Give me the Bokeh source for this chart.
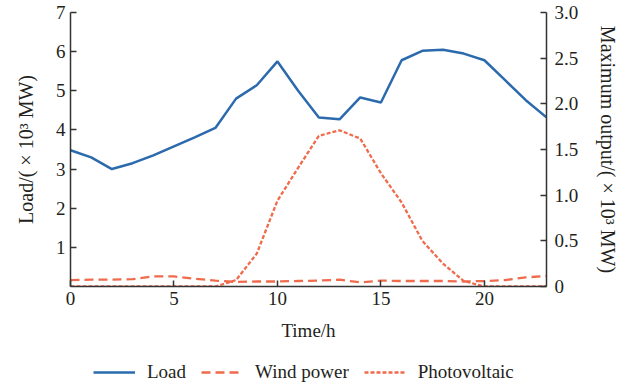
from bokeh.plotting import figure
from bokeh.layouts import column
from bokeh.models import Range1d, LinearAxis, FixedTicker, Legend, LegendItem
from bokeh.embed import file_html
from bokeh.resources import INLINE

hours = list(range(24))
load = [3.48, 3.30, 3.00, 3.15, 3.35, 3.58, 3.81, 4.05, 4.80, 5.14, 5.75, 5.00,
        4.32, 4.27, 4.83, 4.70, 5.78, 6.02, 6.05, 5.95, 5.78, 5.27, 4.76, 4.32]
wind = [0.07, 0.075, 0.075, 0.08, 0.11, 0.11, 0.085, 0.065, 0.05, 0.055, 0.055, 0.06,
        0.065, 0.075, 0.045, 0.065, 0.06, 0.06, 0.06, 0.055, 0.06, 0.07, 0.10, 0.115]
pv = [0, 0, 0, 0, 0, 0, 0, 0, 0.07, 0.36, 0.94, 1.30,
      1.65, 1.71, 1.62, 1.24, 0.92, 0.50, 0.25, 0.06, 0, 0, 0, 0]
x_ticks = [0, 5, 10, 15, 20]
left_ticks = [1, 2, 3, 4, 5, 6, 7]
right_ticks = [0, 0.5, 1.0, 1.5, 2.0, 2.5, 3.0]
right_labels = {0: "0", 0.5: "0.5", 1: "1.0", 1.5: "1.5", 2: "2.0", 2.5: "2.5", 3: "3.0"}
series_names = ["Load", "Wind power", "Photovoltaic"]

FONT = "Liberation Serif"
TXT = "#231f20"
BLUE = "#2b6aad"
ORANGE = "#ef6b4c"

p = figure(width=633, height=351, output_backend="svg", toolbar_location=None,
           x_range=Range1d(0, 23), y_range=Range1d(0, 7),
           min_border_left=70, min_border_right=87, min_border_top=12, min_border_bottom=65)
p.outline_line_color = None
p.xgrid.visible = False
p.ygrid.visible = False
p.extra_y_ranges = {"right": Range1d(0, 3)}

p.line(hours, load, line_color=BLUE, line_width=2.5)
p.line(hours, wind, y_range_name="right", line_color=ORANGE, line_width=2.3, line_dash="9 5")
p.line(hours, pv, y_range_name="right", line_color=ORANGE, line_width=2.3, line_dash="4 2")

def style(ax):
    ax.axis_line_color = "#333333"
    ax.axis_line_width = 1.5
    ax.major_tick_line_color = "#333333"
    ax.major_tick_line_width = 1.5
    ax.major_tick_in = 6
    ax.major_tick_out = 0
    ax.minor_tick_line_color = None
    ax.major_label_text_font = FONT
    ax.major_label_text_font_size = "19px"
    ax.major_label_text_color = TXT
    ax.axis_label_text_font = FONT
    ax.axis_label_text_font_style = "normal"
    ax.axis_label_text_color = TXT

xa = p.xaxis[0]
style(xa)
xa.ticker = FixedTicker(ticks=x_ticks)
xa.axis_label = "Time/h"
xa.axis_label_text_font_size = "19px"
xa.axis_label_standoff = 12
xa.major_label_standoff = 5

ya = p.yaxis[0]
style(ya)
ya.ticker = FixedTicker(ticks=left_ticks)
ya.axis_label = "Load/( × 10³ MW)"
ya.axis_label_text_font_size = "20px"
ya.axis_label_standoff = 16
ya.major_label_standoff = 5

ra = LinearAxis(y_range_name="right")
style(ra)
ra.ticker = FixedTicker(ticks=right_ticks)
ra.major_label_overrides = right_labels
ra.axis_label = "Maximum output/( × 10³ MW)"
ra.axis_label_text_font_size = "20px"
ra.axis_label_standoff = 16
ra.major_label_standoff = 8
p.add_layout(ra, "right")

# legend strip below the chart (frame aligned with the chart's frame)
q = figure(width=633, height=36, output_backend="svg", toolbar_location=None,
           x_range=Range1d(0, 1), y_range=Range1d(0, 1),
           min_border_left=0, min_border_right=0, min_border_top=0, min_border_bottom=0)
q.axis.visible = False
q.xgrid.visible = False
q.ygrid.visible = False
q.outline_line_color = None
l1 = q.line([hours[0]], [load[0]], line_color=BLUE, line_width=2.5)
l2 = q.line([hours[0]], [wind[0]], line_color=ORANGE, line_width=2.3, line_dash="9 5")
l3 = q.line([hours[0]], [pv[0]], line_color=ORANGE, line_width=2.3, line_dash="4 2")
legend = Legend(items=[LegendItem(label=series_names[0], renderers=[l1]),
                       LegendItem(label=series_names[1], renderers=[l2]),
                       LegendItem(label=series_names[2], renderers=[l3])],
                orientation="horizontal", location=(23, 4),
                glyph_width=42, glyph_height=20, label_standoff=12, spacing=15,
                padding=0, margin=0, border_line_alpha=0, background_fill_alpha=0,
                label_text_font=FONT, label_text_font_size="19px", label_text_color=TXT)
q.add_layout(legend, "center")

layout = column(p, q, spacing=0)
open("out.html", "w").write(file_html(layout, INLINE))
